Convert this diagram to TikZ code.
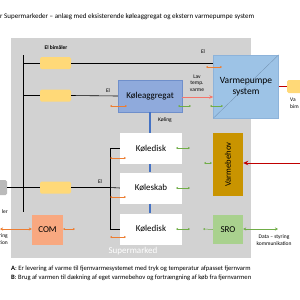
\documentclass[tikz,border=0pt]{standalone}
\usepackage{fontspec}
\setmainfont{Carlito}
\usetikzlibrary{arrows.meta}
\definecolor{bggray}{HTML}{D2D2D2}
\definecolor{ylw}{HTML}{FFD978}
\definecolor{kablue}{HTML}{8FAADC}
\definecolor{kaborder}{HTML}{6F8FCB}
\definecolor{vpblue}{HTML}{9DC3E6}
\definecolor{vpborder}{HTML}{8DB3DA}
\definecolor{cblue}{HTML}{4472C4}
\definecolor{dred}{HTML}{C00000}
\definecolor{lred}{HTML}{F4756B}
\definecolor{orng}{HTML}{ED7D31}
\definecolor{grn}{HTML}{70AD47}
\definecolor{comfill}{HTML}{F8A880}
\definecolor{vbfill}{HTML}{C99400}
\definecolor{srofill}{HTML}{A9D18E}
\begin{document}
\begin{tikzpicture}[x=1pt,y=-1pt,
  ybox/.style={fill=ylw, rounded corners=1.5pt, minimum width=31pt, minimum height=12pt, inner sep=0pt},
  wbox/.style={fill=white, minimum width=62pt, minimum height=31pt, inner sep=0pt, font=\fontsize{9}{10}\selectfont},
  wire/.style={line width=0.6pt, black},
  lbl/.style={font=\fontsize{5.5}{6}\selectfont, inner sep=0pt},
  cool/.style={line width=2.2pt, cblue},
  oarr/.style={orng, line width=0.5pt, {Stealth[length=2pt,width=2pt]}-{Stealth[length=2pt,width=2pt]}},
  garr/.style={grn, line width=0.5pt, {Stealth[length=2pt,width=2pt]}-{Stealth[length=2pt,width=2pt]}},
]
\useasboundingbox[fill=white] (0,0) rectangle (300,300);
% background
\fill[bggray] (11,38) rectangle (251,258);
\node[anchor=west, inner sep=0pt, font=\fontsize{7}{8}\selectfont] (title) at (0,17) {r Supermarkeder – anlæg med eksisterende køleaggregat og ekstern varmepumpe  system};
\node[font=\fontsize{9}{10}\selectfont, text=white, inner sep=0pt] (sm) at (133,251) {Supermarked};

% bus
\coordinate (busT) at (23,55);
\coordinate (busB) at (23,212);
\draw[wire] (busT) -- (busB);

% boxes
\node[ybox] (yb1) at (55.5,63) {};
\node[ybox] (yb2) at (55.5,95.5) {};
\node[ybox] (yb3) at (55.5,187.5) {};
\node[ybox, minimum width=16pt, minimum height=13pt] (ybr) at (295,86.5) {};
\node[fill=bggray!85!black!90, rounded corners=1.5pt, minimum width=12pt, minimum height=15pt, inner sep=0pt] (lg) at (1,187.5) {};

\node[fill=kablue, draw=kaborder, line width=0.4pt, minimum width=64pt, minimum height=32pt, inner sep=0pt, font=\fontsize{9}{10}\selectfont] (ka) at (150,96) {Køleaggregat};
\node[fill=vpblue, draw=vpborder, line width=0.4pt, minimum width=65pt, minimum height=63pt, inner sep=0pt] (vp) at (246,86.5) {};
\draw[vpborder!80!black, line width=0.3pt] (vp.south west) -- (vp.north east);
\node[font=\fontsize{9.5}{11.5}\selectfont, align=center, inner sep=0pt] (vptxt) at (vp.center) {Varmepumpe\\system};

\node[wbox] (kd1) at (151,148.5) {Køledisk};
\node[wbox] (ks) at (151,188) {Køleskab};
\node[wbox] (kd2) at (151,229) {Køledisk};

\node[fill=vbfill, minimum width=30pt, minimum height=63pt, inner sep=0pt] (vb) at (228,164.5) {};
\node[rotate=90, font=\fontsize{8.5}{10}\selectfont, inner sep=0pt] (vbtxt) at (vb.center) {Varmebehov};
\node[fill=srofill, minimum width=30pt, minimum height=29pt, inner sep=0pt, font=\fontsize{9}{10}\selectfont] (sro) at (228,229.5) {SRO};
\node[fill=comfill, minimum width=31pt, minimum height=30pt, inner sep=0pt, font=\fontsize{9}{10}\selectfont] (com) at (47.5,230) {COM};

% wires
\draw[wire] (busT |- yb1.west) -- (yb1.west);
\draw[wire] (yb1.east) -- (yb1.east -| vp.west);
\draw[wire] (busT |- yb2.west) -- (yb2.west);
\draw[wire] (yb2.east) -- (ka.west);
\draw[wire] (lg.east) -- (yb3.west);
\coordinate (brT) at (110,148.5);
\coordinate (brM) at (110,187.5);
\coordinate (brB) at (110,229);
\draw[wire] (yb3.east) -- (brM);
\draw[wire] (brT) -- (brB);
\draw[wire] (brT) -- (kd1.west);
\draw[wire] (brM) -- (ks.west);
\draw[wire] (brB) -- (kd2.west);

% cooling connectors
\draw[cool] (ka.south -| 150,0) -- (kd1.north -| 150,0);
\draw[cool] (kd1.south -| 150,0) -- (ks.north -| 150,0);
\draw[cool] (ks.south -| 150,0) -- (kd2.north -| 150,0);

% heat
\draw[lred, line width=1pt, -{Stealth[length=4pt,width=3.5pt]}] (ka.east |- 0,97) -- (vp.west |- 0,97);
\draw[dred, line width=1pt] (vp.east |- ybr.west) -- (ybr.west);
\coordinate (rin) at (301,163);
\draw[dred, line width=1pt, -{Stealth[length=5pt,width=4.5pt]}] (rin) -- (vb.east |- rin);

% small arrows
\draw[oarr] (206,67) -- (222,67);
\draw[oarr] (110,106) -- (127,106);
\draw[garr] (178,106) -- (191,106);
\draw[garr] (210,106) -- (223,106);
\draw[oarr] (110,158) -- (126,158);
\draw[oarr] (110,197) -- (126,197);
\draw[oarr] (110,237) -- (126,237);
\draw[garr] (176,148) -- (190,148);
\draw[garr] (176,188) -- (190,188);
\draw[garr] (176,229) -- (190,229);
\draw[garr] (204,163) -- (212,163);
\draw[grn, line width=0.5pt, {Stealth[length=2pt,width=2pt]}-] (203,229) -- (sro.west);
\coordinate (sroR) at (278,229);
\draw[grn, line width=0.9pt, {Stealth[length=3pt,width=3pt]}-{Stealth[length=3pt,width=3pt]}] (sro.east |- sroR) -- (sroR);
\draw[oarr] (63,229) -- (75,229);
\coordinate (comL) at (0,229);
\draw[orng, line width=0.9pt, {Stealth[length=3pt,width=3pt]}-{Stealth[length=3pt,width=3pt]}] (comL) -- (com.west |- comL);

% labels
\node[lbl, font=\bfseries\fontsize{5.5}{6}\selectfont] (l1) at (56,48) {El bimåler};
\node[lbl] (l2) at (203,52) {El};
\node[lbl] (l3) at (108,91) {El};
\node[lbl] (l4) at (100,182) {El};
\node[lbl] (l5) at (165,120) {Køling};
\node[lbl, align=center, font=\fontsize{5.5}{6.5}\selectfont] (l6) at (197,83) {Lav\\temp.\\varme};
\node[lbl, anchor=west] (l7) at (290,100) {Va};
\node[lbl, anchor=west] (l8) at (290,106.5) {bim};
\node[lbl, anchor=east] (l9) at (8,212) {ler};
\node[lbl, anchor=east, align=right, font=\fontsize{5.5}{6.5}\selectfont] (l10) at (8,239) {ring\\tion};
\node[lbl, align=center, font=\fontsize{5.5}{7}\selectfont] (l11) at (274,240) {Data – styring\\kommunikation};

% bottom text
\node[anchor=west, inner sep=0pt, font=\fontsize{6.6}{7}\selectfont] (ta) at (11,269) {\textbf{A}: Er levering af varme til fjernvarmesystemet med tryk og temperatur afpasset fjernvarm};
\node[anchor=west, inner sep=0pt, font=\fontsize{6.6}{7}\selectfont] (tb) at (11,278) {\textbf{B}: Brug af varmen til dækning af eget varmebehov og fortrængning af køb fra fjernvarmen};
\end{tikzpicture}
\end{document}
